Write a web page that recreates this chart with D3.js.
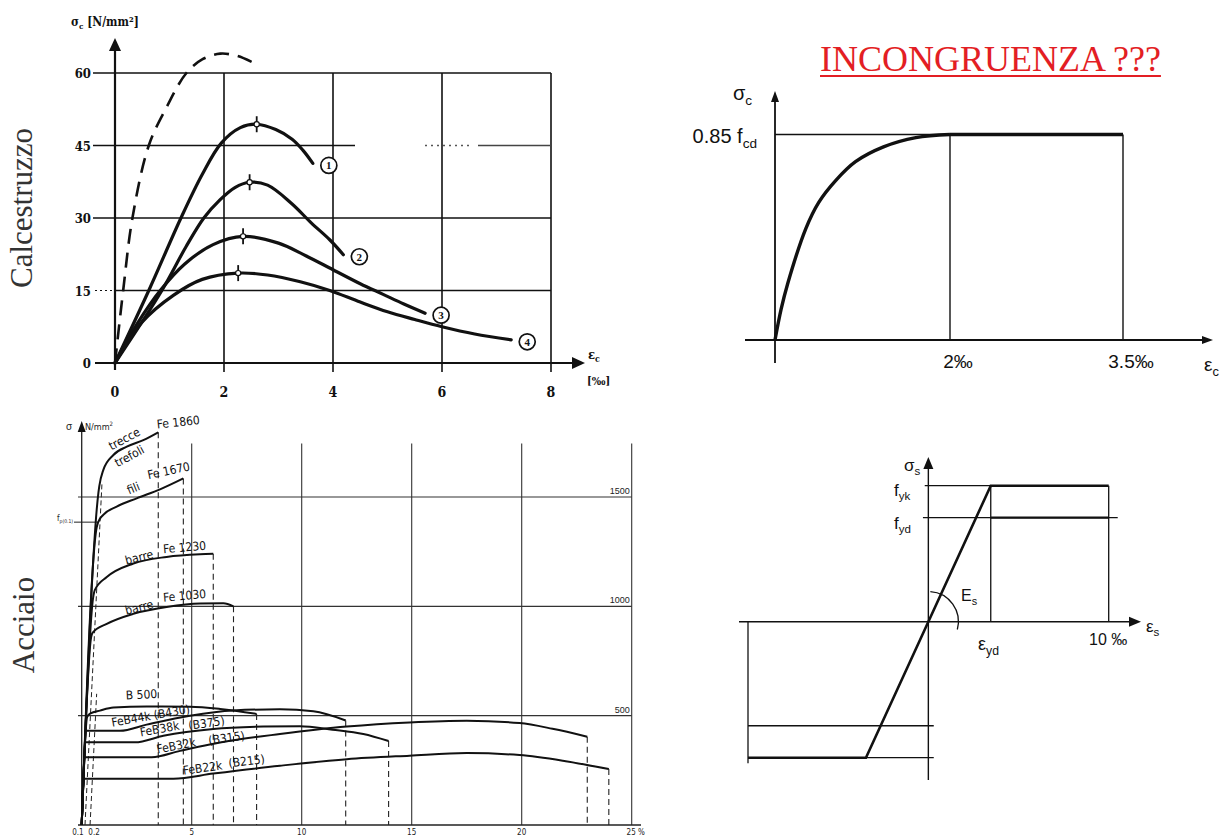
<!DOCTYPE html>
<html><head><meta charset="utf-8">
<script src="https://cdn.jsdelivr.net/npm/d3@7"></script>
<style>body{margin:0;background:#fff}svg{display:block}</style>
</head><body>
<svg id="c" width="1226" height="839"></svg>
<script>
// ---------- Concrete: stress-strain test curves (strain ‰, stress N/mm²) ----------
const concreteTicksX = [0, 2, 4, 6, 8];
const concreteTicksY = [0, 15, 30, 45, 60];
const concreteDashed = [[0,0],[0.15,15],[0.32,30],[0.62,45],[0.95,53],[1.31,60],[1.6,62.8],[1.93,64],[2.25,63.5],[2.54,62.1]];
const concreteCurve1 = [[0,0],[0.62,15],[1.21,30],[1.6,39],[1.95,45.5],[2.3,48.7],[2.6,49.4],[2.95,48.3],[3.25,46.3],[3.45,44],[3.63,41.3]];
const concreteCurve2 = [[0,0],[0.86,15],[1.3,24],[1.63,30],[1.93,33.8],[2.2,36.3],[2.47,37.4],[2.8,36.8],[3.24,33],[3.6,29],[3.94,25.5],[4.19,22.4]];
const concreteCurve3 = [[0,0],[0.4,8],[0.83,15],[1.28,20.5],[1.8,24.5],[2.35,26.2],[3.0,24.8],[3.5,22.2],[4.0,19.3],[4.5,16.4],[4.92,14.2],[5.3,12.2],[5.69,10.3]];
const concreteCurve4 = [[0,0],[0.5,8.5],[1.07,14],[1.6,17.3],[2.26,18.6],[2.8,18.2],[3.4,16.8],[3.94,15],[4.5,12.6],[5.0,10.6],[5.5,9],[6.0,7.5],[6.6,6],[7.27,4.8]];
const concretePeaks = [[2.6,49.4],[2.47,37.4],[2.35,26.2],[2.26,18.6]];
const concreteCurveNames = ["1", "2", "3", "4"];

// ---------- Concrete: design parabola-rectangle (strain ‰, stress / 0.85 fcd) ----------
const designStrainTicks = [2, 3.5];
const designStrainLabels = ["2‰", "3.5‰"];
const designParabola = [[0,0],[0.07,0.15],[0.144,0.273],[0.35,0.54],[0.5,0.67],[0.693,0.776],[0.92,0.868],[1.24,0.94],[1.61,0.985],[2,1]];
const designPlateau = [[2,1],[3.5,1]];

// ---------- Steel: stress-strain curves (strain %, stress N/mm²) ----------
const steelTicksX = [5, 10, 15, 20, 25];
const steelTicksY = [500, 1000, 1500];
const steelFe1860 = [[0,0],[0.76,1520],[0.8,1550],[0.98,1623],[1.44,1692],[2.05,1730],[2.8,1760],[3.48,1796]];
const steelFe1670 = [[0,0],[0.68,1360],[0.75,1385],[0.98,1418],[1.59,1456],[2.5,1494],[3.56,1535],[4.62,1585]];
const steelFe1230 = [[0,0],[0.52,1040],[0.6,1075],[1.14,1134],[2.35,1196],[3.86,1226],[5.38,1238],[5.98,1240]];
const steelFe1030 = [[0,0],[0.43,860],[0.5,880],[1.14,920],[2.35,966],[3.86,997],[5.38,1013],[6.44,1014],[6.9,1000]];
const steelB500   = [[0,0],[0.25,495],[0.4,510],[0.83,523],[1.44,537],[2.95,542],[4.92,541],[6.29,531],[7.95,508]];
const steelFeB44k = [[0,0],[0.22,431],[1.74,431],[2.95,459],[4.92,500],[6.89,524],[9.01,529],[10.53,520],[12,478]];
const steelFeB38k = [[0,0],[0.19,378],[2.42,378],[3.71,408],[5.98,439],[8.25,450],[9.92,452],[11.4,436],[12.8,416],[13.95,384]];
const steelFeB32k = [[0,0],[0.16,310],[3.18,310],[4.47,339],[6.74,385],[9.01,416],[12.05,450],[14.9,469],[17.5,477],[19.9,466],[21.4,440],[22.98,404]];
const steelFeB22k = [[0,0],[0.11,212],[4.17,212],[5.98,235],[9.01,271],[12.05,301],[14.9,317],[17.5,329],[19.9,320],[22,292],[23.96,256]];
const steelOffsetLines = [[[0.15,0],[0.92,1560]], [[0.38,0],[0.68,600]]];
const steelProofStress = 1385;   // f p(0.1)
// curve labels: text, anchor (strain %, stress), rotation in degrees
const steelLabels = [
  ["trecce", 2.07, 1741, -28], ["trefoli", 2.3, 1662, -28], ["Fe 1860", 4.42, 1814, -6],
  ["fili", 2.45, 1514, -22], ["Fe 1670", 4.01, 1593, -12],
  ["barre", 2.68, 1197, -14], ["Fe 1230", 4.7, 1242, -5],
  ["barre", 2.68, 968, -14], ["Fe 1030", 4.7, 1021, -5],
  ["B 500", 2.73, 568, -3], ["FeB44k (B430)", 3.18, 472, -10],
  ["FeB38k", 3.59, 412, -10], ["(B375)", 5.71, 438, -8],
  ["FeB32k", 4.35, 335, -11], ["(B315)", 6.62, 370, -8],
  ["FeB22k", 5.53, 233, -8], ["(B215)", 7.53, 264, -7]
];

// ---------- Steel: design elastic-plastic law (strain ‰, stress / fyk) ----------
const epsYd = 3.46;
const fyd = 0.765;
const steelDesignLaw = [[-10,-1],[-epsYd,-1],[0,0],[epsYd,1],[10,1]];

// ================= drawing =================
const svg = d3.select("#c");
svg.append("rect").attr("width", 1226).attr("height", 839).attr("fill", "#fff");

const serif = "'Liberation Serif','Times New Roman',serif";
const sans = "'Liberation Sans',Arial,sans-serif";
const narrow = "'Liberation Sans Narrow','DejaVu Sans Condensed','Liberation Sans',sans-serif";
const condSerif = "'DejaVu Serif Condensed','Liberation Serif',serif";

function seg(g, x1, y1, x2, y2, w, dash, color) {
  const l = g.append("line").attr("x1", x1).attr("y1", y1).attr("x2", x2).attr("y2", y2)
    .attr("stroke", color || "#111").attr("stroke-width", w);
  if (dash) l.attr("stroke-dasharray", dash);
  return l;
}
function arrow(g, x, y, dir, len, half) {
  const p = dir === "up"
    ? [[x, y], [x - half, y + len], [x + half, y + len]]
    : [[x, y], [x - len, y - half], [x - len, y + half]];
  g.append("path").attr("d", "M" + p.join("L") + "Z").attr("fill", "#111");
}
function subText(g, x, y, main, sub, size, anchor, family, weight) {
  const t = g.append("text").attr("x", x).attr("y", y).attr("font-family", family || sans)
    .attr("font-size", size).attr("fill", "#111").attr("text-anchor", anchor || "start");
  if (weight) t.attr("font-weight", weight);
  t.append("tspan").text(main);
  t.append("tspan").attr("font-size", size * 0.68).attr("dy", size * 0.25).text(sub);
  return t;
}

// ---------- side titles ----------
svg.append("text").attr("transform", "translate(32,208) rotate(-90)").attr("text-anchor", "middle")
  .attr("font-family", serif).attr("font-size", 31).attr("fill", "#333").text("Calcestruzzo");
svg.append("text").attr("transform", "translate(34,625) rotate(-90)").attr("text-anchor", "middle")
  .attr("font-family", serif).attr("font-size", 31).attr("fill", "#333").text("Acciaio");

// ---------- panel A: concrete test curves ----------
{
  const g = svg.append("g");
  const x = d3.scaleLinear().domain([0, 8]).range([115, 551]);
  const y = d3.scaleLinear().domain([0, 60]).range([363, 73]);
  const line = d3.line().x(d => x(d[0])).y(d => y(d[1])).curve(d3.curveCatmullRom.alpha(0.5));

  // grid
  concreteTicksX.slice(1).forEach(v => seg(g, x(v), y(60), x(v), y(0) + 9, 1.6));
  seg(g, 93, y(60), x(8), y(60), 1.6);
  seg(g, 93, y(30), x(8), y(30), 1.6);
  seg(g, 93, y(45), 355, y(45), 1.6);
  seg(g, 425, y(45), 470, y(45), 1.3, "2,4", "#555");
  seg(g, 478, y(45), x(8), y(45), 1.6, null, "#444");
  seg(g, 95, y(15), x(0), y(15), 1.2, "2,3");
  seg(g, x(0), y(15), x(8), y(15), 1.6);
  // axes
  seg(g, 95, y(0), 574, y(0), 2);
  arrow(g, 585, y(0), "right", 13, 6);
  seg(g, x(0), y(0) + 7, x(0), 50, 2.2);
  arrow(g, x(0), 38, "up", 13, 6);

  concreteTicksY.forEach(v => g.append("text").attr("x", 91).attr("y", y(v) + 5)
    .attr("text-anchor", "end").attr("font-family", condSerif).attr("font-weight", "bold")
    .attr("font-size", 13).attr("fill", "#111").text(v));
  concreteTicksX.forEach(v => g.append("text").attr("x", x(v)).attr("y", 397)
    .attr("text-anchor", "middle").attr("font-family", condSerif).attr("font-weight", "bold")
    .attr("font-size", 14).attr("fill", "#111").text(v));

  const yt = subText(g, 71, 26, "σ", "c", 12, "start", condSerif, "bold");
  yt.append("tspan").attr("dy", -12 * 0.25).text(" [N/mm²]");
  subText(g, 588, 359, "ε", "c", 13, "start", condSerif, "bold");
  g.append("text").attr("x", 587).attr("y", 385).attr("font-family", condSerif).attr("font-weight", "bold")
    .attr("font-size", 11).attr("fill", "#111").text("[‰]");

  // curves
  g.append("path").attr("d", line(concreteDashed)).attr("fill", "none").attr("stroke", "#111")
    .attr("stroke-width", 2.6).attr("stroke-dasharray", "15,9");
  const curves = [concreteCurve1, concreteCurve2, concreteCurve3, concreteCurve4];
  curves.forEach((c, i) => {
    g.append("path").attr("d", line(c)).attr("fill", "none").attr("stroke", "#111")
      .attr("stroke-width", 3.2).attr("stroke-linecap", "round");
    const end = c[c.length - 1];
    const cx = x(end[0]) + 16, cy = y(end[1]) + 2;
    g.append("circle").attr("cx", cx).attr("cy", cy).attr("r", 8).attr("fill", "#fff")
      .attr("stroke", "#111").attr("stroke-width", 1.7);
    g.append("text").attr("x", cx).attr("y", cy + 4).attr("text-anchor", "middle")
      .attr("font-family", serif).attr("font-weight", "bold").attr("font-size", 11)
      .attr("fill", "#111").text(concreteCurveNames[i]);
  });
  concretePeaks.forEach(p => {
    seg(g, x(p[0]), y(p[1]) - 8, x(p[0]), y(p[1]) + 8, 1.8);
    g.append("circle").attr("cx", x(p[0])).attr("cy", y(p[1])).attr("r", 2.6)
      .attr("fill", "#fff").attr("stroke", "#111").attr("stroke-width", 1.2);
  });
}

// ---------- panel B: design parabola-rectangle ----------
{
  const g = svg.append("g");
  const x = d3.scaleLinear().domain([0, 2, 3.5]).range([775, 950, 1123]);
  const y = d3.scaleLinear().domain([0, 1]).range([340, 134.5]);
  const line = d3.line().x(d => x(d[0])).y(d => y(d[1])).curve(d3.curveCatmullRom.alpha(0.5));

  const title = g.append("text").attr("x", 820).attr("y", 71).attr("font-family", serif)
    .attr("font-size", 36).attr("fill", "#e31e24").text("INCONGRUENZA ???");
  const tw = title.node().getComputedTextLength();
  seg(g, 820, 76, 820 + tw, 76, 2, null, "#e31e24");

  seg(g, x(0), y(1), x(3.5), y(1), 1.4);
  designStrainTicks.forEach(v => seg(g, x(v), y(0), x(v), y(1), 1.4));
  seg(g, 745, y(0), 1203, y(0), 1.8);
  arrow(g, 1213, y(0), "right", 11, 4);
  seg(g, x(0), 363, x(0), 100, 1.8);
  arrow(g, x(0), 91, "up", 11, 4);

  g.append("path").attr("d", line(designParabola)).attr("fill", "none").attr("stroke", "#111")
    .attr("stroke-width", 3.4);
  g.append("path").attr("d", line(designPlateau)).attr("fill", "none").attr("stroke", "#111")
    .attr("stroke-width", 3.4);

  subText(g, 733, 100, "σ", "c", 20, "start");
  subText(g, 757, 143, "0.85 f", "cd", 20, "end");
  designStrainTicks.forEach((v, i) => g.append("text").attr("x", x(v) + 8).attr("y", 368)
    .attr("text-anchor", "middle").attr("font-family", sans).attr("font-size", 19).attr("fill", "#111")
    .text(designStrainLabels[i]));
  subText(g, 1204, 371, "ε", "c", 19, "start");
}

// ---------- panel C: steel curves ----------
{
  const g = svg.append("g");
  const x = d3.scaleLinear().domain([0, 25]).range([81.7, 631.7]);
  const y = d3.scaleLinear().domain([0, 1500]).range([825, 497]);
  const line = d3.line().x(d => x(d[0])).y(d => y(d[1])).curve(d3.curveMonotoneX);

  steelTicksX.forEach(v => seg(g, x(v), y(1745), x(v), y(0), 1.1, null, "#333"));
  steelTicksY.forEach(v => {
    seg(g, 78, y(v), x(25), y(v), 1.1, null, "#333");
    g.append("text").attr("x", x(25) - 2).attr("y", y(v) - 3).attr("text-anchor", "end")
      .attr("font-family", sans).attr("font-size", 9).attr("fill", "#222").text(v);
  });
  seg(g, 78, y(0), 641, y(0), 1.3, null, "#222");
  seg(g, x(0), y(0), x(0), 431, 1.3, null, "#222");
  arrow(g, x(0), 421, "up", 11, 4);

  // axis texts
  g.append("text").attr("x", 66).attr("y", 430).attr("font-family", sans).attr("font-size", 10)
    .attr("fill", "#222").text("σ");
  const u = g.append("text").attr("x", 85).attr("y", 430).attr("font-family", narrow).attr("font-size", 9)
    .attr("fill", "#222").text("N/mm");
  u.append("tspan").attr("font-size", 6).attr("dy", -4).text("2");
  const fp = g.append("text").attr("x", 57).attr("y", 521).attr("font-family", narrow).attr("font-size", 8)
    .attr("fill", "#222").text("f");
  fp.append("tspan").attr("font-size", 5).attr("dy", 2).text("p(0.1)");
  seg(g, 74, y(steelProofStress), x(0.75), y(steelProofStress), 1, null, "#222");

  const tickText = [[0.1, "0.1", -6], [0.2, "0.2", 8]];
  tickText.forEach(t => g.append("text").attr("x", x(t[0]) + t[2]).attr("y", 835).attr("text-anchor", "middle")
    .attr("font-family", narrow).attr("font-size", 8).attr("fill", "#222").text(t[1]));
  steelTicksX.forEach(v => g.append("text").attr("x", x(v) + (v === 25 ? 4 : 0)).attr("y", 835)
    .attr("text-anchor", "middle").attr("font-family", narrow).attr("font-size", 8).attr("fill", "#222")
    .text(v === 25 ? "25 %" : v));

  // dashed offset lines
  steelOffsetLines.forEach(l => seg(g, x(l[0][0]), y(l[0][1]), x(l[1][0]), y(l[1][1]), 1, "5,3", "#222"));

  const curves = [steelFe1860, steelFe1670, steelFe1230, steelFe1030, steelB500,
                  steelFeB44k, steelFeB38k, steelFeB32k, steelFeB22k];
  curves.forEach(c => {
    const end = c[c.length - 1];
    seg(g, x(end[0]), y(end[1]), x(end[0]), y(0), 1.1, "6,4", "#222");
  });
  curves.forEach(c => g.append("path").attr("d", line(c)).attr("fill", "none")
    .attr("stroke", "#111").attr("stroke-width", 2));

  steelLabels.forEach(l => g.append("text")
    .attr("transform", `translate(${x(l[1])},${y(l[2])}) rotate(${l[3]})`)
    .attr("text-anchor", "middle").attr("dy", -2).attr("font-family", narrow).attr("font-size", 12)
    .attr("fill", "#111").text(l[0]));
}

// ---------- panel D: steel design law ----------
{
  const g = svg.append("g");
  const x = d3.scaleLinear().domain([-10, 10]).range([748, 1108.7]);
  const y = d3.scaleLinear().domain([-1, 1]).range([757.7, 485.7]);
  const line = d3.line().x(d => x(d[0])).y(d => y(d[1]));

  // thin reference lines
  seg(g, x(-0.2), y(1), x(epsYd), y(1), 1.3);
  seg(g, x(-0.3), y(fyd), x(10.5), y(fyd), 1.3);
  seg(g, x(epsYd), y(0), x(epsYd), y(1), 1.3);
  seg(g, x(10), y(0), x(10), y(1), 1.3);
  seg(g, x(-10), y(0), x(-10), y(-1.04), 1.3);
  seg(g, x(-10), y(-fyd), x(0.3), y(-fyd), 1.3);
  seg(g, x(-epsYd), y(-1), x(0.3), y(-1), 1.3);
  seg(g, x(epsYd), y(fyd), x(10), y(fyd), 2.2);

  // axes
  seg(g, 739, y(0), 1130, y(0), 1.4);
  arrow(g, 1141, y(0), "right", 12, 5);
  seg(g, x(0), 780, x(0), 468, 1.4);
  arrow(g, x(0), 457, "up", 12, 5);

  g.append("path").attr("d", line(steelDesignLaw)).attr("fill", "none").attr("stroke", "#111")
    .attr("stroke-width", 2.6);

  // modulus arc
  const cx = x(0), cy = y(0), r = 30, a = 15 * Math.PI / 180;
  g.append("path").attr("d", `M${cx + 2},${cy - r} A${r},${r} 0 0 1 ${cx + r * Math.cos(a)},${cy + r * Math.sin(a)}`)
    .attr("fill", "none").attr("stroke", "#111").attr("stroke-width", 1.3);

  subText(g, 904, 471, "σ", "s", 17, "start");
  subText(g, 894, 496, "f", "yk", 17, "start");
  subText(g, 894, 529, "f", "yd", 17, "start");
  subText(g, 961, 601, "E", "s", 16, "start");
  subText(g, 978, 650, "ε", "yd", 18, "start");
  g.append("text").attr("x", 1089).attr("y", 645).attr("font-family", sans).attr("font-size", 16)
    .attr("fill", "#111").text("10 ‰");
  subText(g, 1146, 632, "ε", "s", 17, "start");
}
</script>
</body></html>
